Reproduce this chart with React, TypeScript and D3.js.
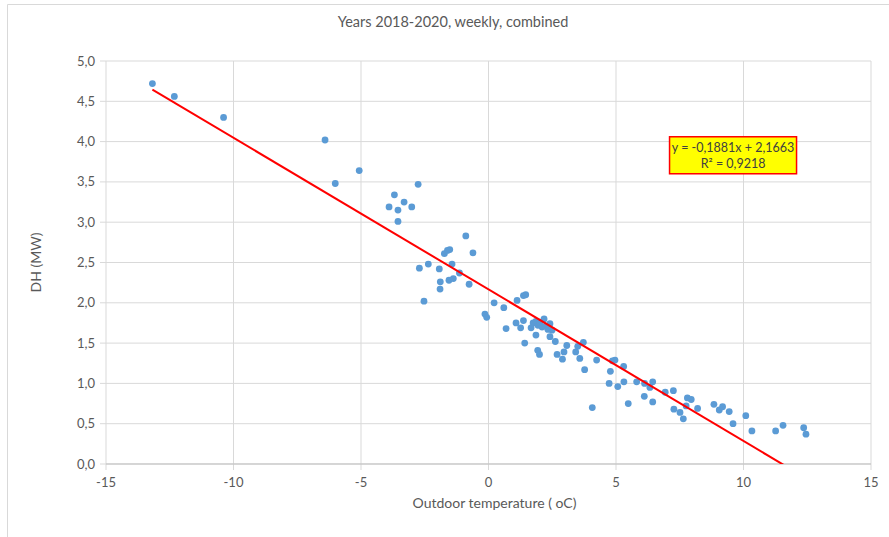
import * as d3 from "d3";

// weekly observations: outdoor temperature (oC) and DH load (MW)
const temps = [
  -13.18, -12.32, -10.39, -6.41, -6.01, -5.07, -2.76, -3.69, -3.31, -3.9,
  -3.55, -3.01, -3.55, -0.89, -0.61, -1.52, -1.61, -1.73, -2.36, -2.71,
  -1.93, -1.43, -1.14, -0.76, -1.89, -1.55, -1.38, -1.9, -2.53, 0.22,
  -0.14, -0.07, 0.6, 1.12, 1.37, 1.46, 0.69, 1.08, 1.26, 1.37,
  1.42, 1.75, 1.86, 1.94, 2.02, 2.1, 2.18, 2.25, 2.33, 2.41,
  2.49, 1.67, 1.86, 1.93, 2.0, 2.41, 2.62, 3.07, 2.96, 2.69,
  2.9, 3.42, 3.5, 3.72, 3.58, 3.77, 4.24, 4.07, 4.86, 4.96,
  4.78, 4.73, 5.07, 5.3, 5.31, 5.48, 5.81, 6.11, 6.12, 6.33,
  6.44, 6.44, 6.93, 7.25, 7.27, 7.51, 7.64, 7.75, 7.8, 7.95,
  8.2, 8.84, 9.05, 9.18, 9.44, 9.59, 10.09, 10.33, 11.26, 11.55,
  12.36, 12.45,
];
const loads = [
  4.72, 4.56, 4.3, 4.02, 3.48, 3.64, 3.47, 3.34, 3.25, 3.19,
  3.15, 3.19, 3.01, 2.83, 2.62, 2.66, 2.65, 2.61, 2.48, 2.43,
  2.42, 2.48, 2.37, 2.23, 2.26, 2.28, 2.3, 2.17, 2.02, 2.0,
  1.86, 1.82, 1.94, 2.03, 2.09, 2.1, 1.68, 1.75, 1.69, 1.78,
  1.5, 1.75, 1.77, 1.72, 1.76, 1.7, 1.8, 1.71, 1.67, 1.74,
  1.66, 1.69, 1.6, 1.41, 1.36, 1.58, 1.52, 1.47, 1.39, 1.36,
  1.3, 1.39, 1.46, 1.51, 1.31, 1.17, 1.29, 0.7, 1.28, 1.29,
  1.15, 1.0, 0.96, 1.21, 1.02, 0.75, 1.02, 0.84, 1.0, 0.95,
  1.02, 0.77, 0.89, 0.91, 0.68, 0.64, 0.56, 0.72, 0.82, 0.8,
  0.69, 0.74, 0.67, 0.71, 0.65, 0.5, 0.6, 0.41, 0.41, 0.48,
  0.45, 0.37,
];

const xTicks = [-15, -10, -5, 0, 5, 10, 15];
const yTicks = [0, 0.5, 1, 1.5, 2, 2.5, 3, 3.5, 4, 4.5, 5];

const slope = -0.1881;
const intercept = 2.1663;

export default function App() {
  const width = 889;
  const height = 537;
  const margin = { top: 61, right: 18, bottom: 73, left: 106 };
  const innerW = width - margin.left - margin.right;
  const innerH = height - margin.top - margin.bottom;

  const x = d3.scaleLinear().domain([-15, 15]).range([0, innerW]);
  const y = d3.scaleLinear().domain([0, 5]).range([innerH, 0]);

  const fmtY = (v: number) => d3.format(".1f")(v).replace(".", ",");
  const font = "Lato, 'Open Sans', sans-serif";
  const grey = "#595959";

  const xMin = d3.min(temps) as number;
  const xMax = d3.max(temps) as number;
  const line = d3.line<number>()
    .x(d => x(d))
    .y(d => y(slope * d + intercept));

  return (
    <svg
      width={width}
      height={height}
      style={{ position: "absolute", left: 0, top: 0, background: "#fff" }}
    >
      <path d={`M7.5,${height} V4.5 H${width}`} fill="none" stroke="#d9d9d9" />

      <text x={453} y={27} textAnchor="middle" fontFamily={font} fontSize={14.5} fill={grey}>
        Years 2018-2020, weekly, combined
      </text>

      <defs>
        <clipPath id="plot">
          <rect x={0} y={0} width={innerW} height={innerH} />
        </clipPath>
      </defs>

      <g transform={`translate(${margin.left},${margin.top})`}>
        {yTicks.map(t => (
          <g key={t}>
            <line x1={-6} x2={innerW} y1={y(t)} y2={y(t)} stroke="#d9d9d9" />
            <text x={-11} y={y(t) + 4.5} textAnchor="end" fontFamily={font} fontSize={13} fill={grey}>
              {fmtY(t)}
            </text>
          </g>
        ))}
        {xTicks.map(t => (
          <g key={t}>
            <line x1={x(t)} x2={x(t)} y1={0} y2={innerH + 6} stroke="#d9d9d9" />
            <text x={x(t)} y={innerH + 23} textAnchor="middle" fontFamily={font} fontSize={13} fill={grey}>
              {t}
            </text>
          </g>
        ))}
        <line x1={0} x2={innerW} y1={innerH} y2={innerH} stroke="#bfbfbf" />

        {temps.map((t, i) => (
          <circle key={i} cx={x(t)} cy={y(loads[i])} r={3.4} fill="#5b9bd5" />
        ))}

        <path
          d={line([xMin, xMax]) ?? ""}
          fill="none"
          stroke="#ff0000"
          strokeWidth={2}
          clipPath="url(#plot)"
        />

        <g transform={`translate(${x(7.1)},${y(4.06)})`}>
          <rect x={0} y={0} width={127} height={37} fill="#ffff00" stroke="#ff0000" strokeWidth={1.5} />
          <text x={63.5} y={15} textAnchor="middle" fontFamily={font} fontSize={12.5} fill="#404040">
            y = -0,1881x + 2,1663
          </text>
          <text x={63.5} y={31} textAnchor="middle" fontFamily={font} fontSize={12.5} fill="#404040">
            R² = 0,9218
          </text>
        </g>
      </g>

      <text
        transform={`translate(41,${margin.top + innerH / 2}) rotate(-90)`}
        textAnchor="middle"
        fontFamily={font}
        fontSize={14}
        fill={grey}
      >
        DH (MW)
      </text>
      <text
        x={margin.left + innerW / 2 + 6}
        y={508}
        textAnchor="middle"
        fontFamily={font}
        fontSize={14}
        fill={grey}
      >
        Outdoor temperature ( oC)
      </text>
    </svg>
  );
}
